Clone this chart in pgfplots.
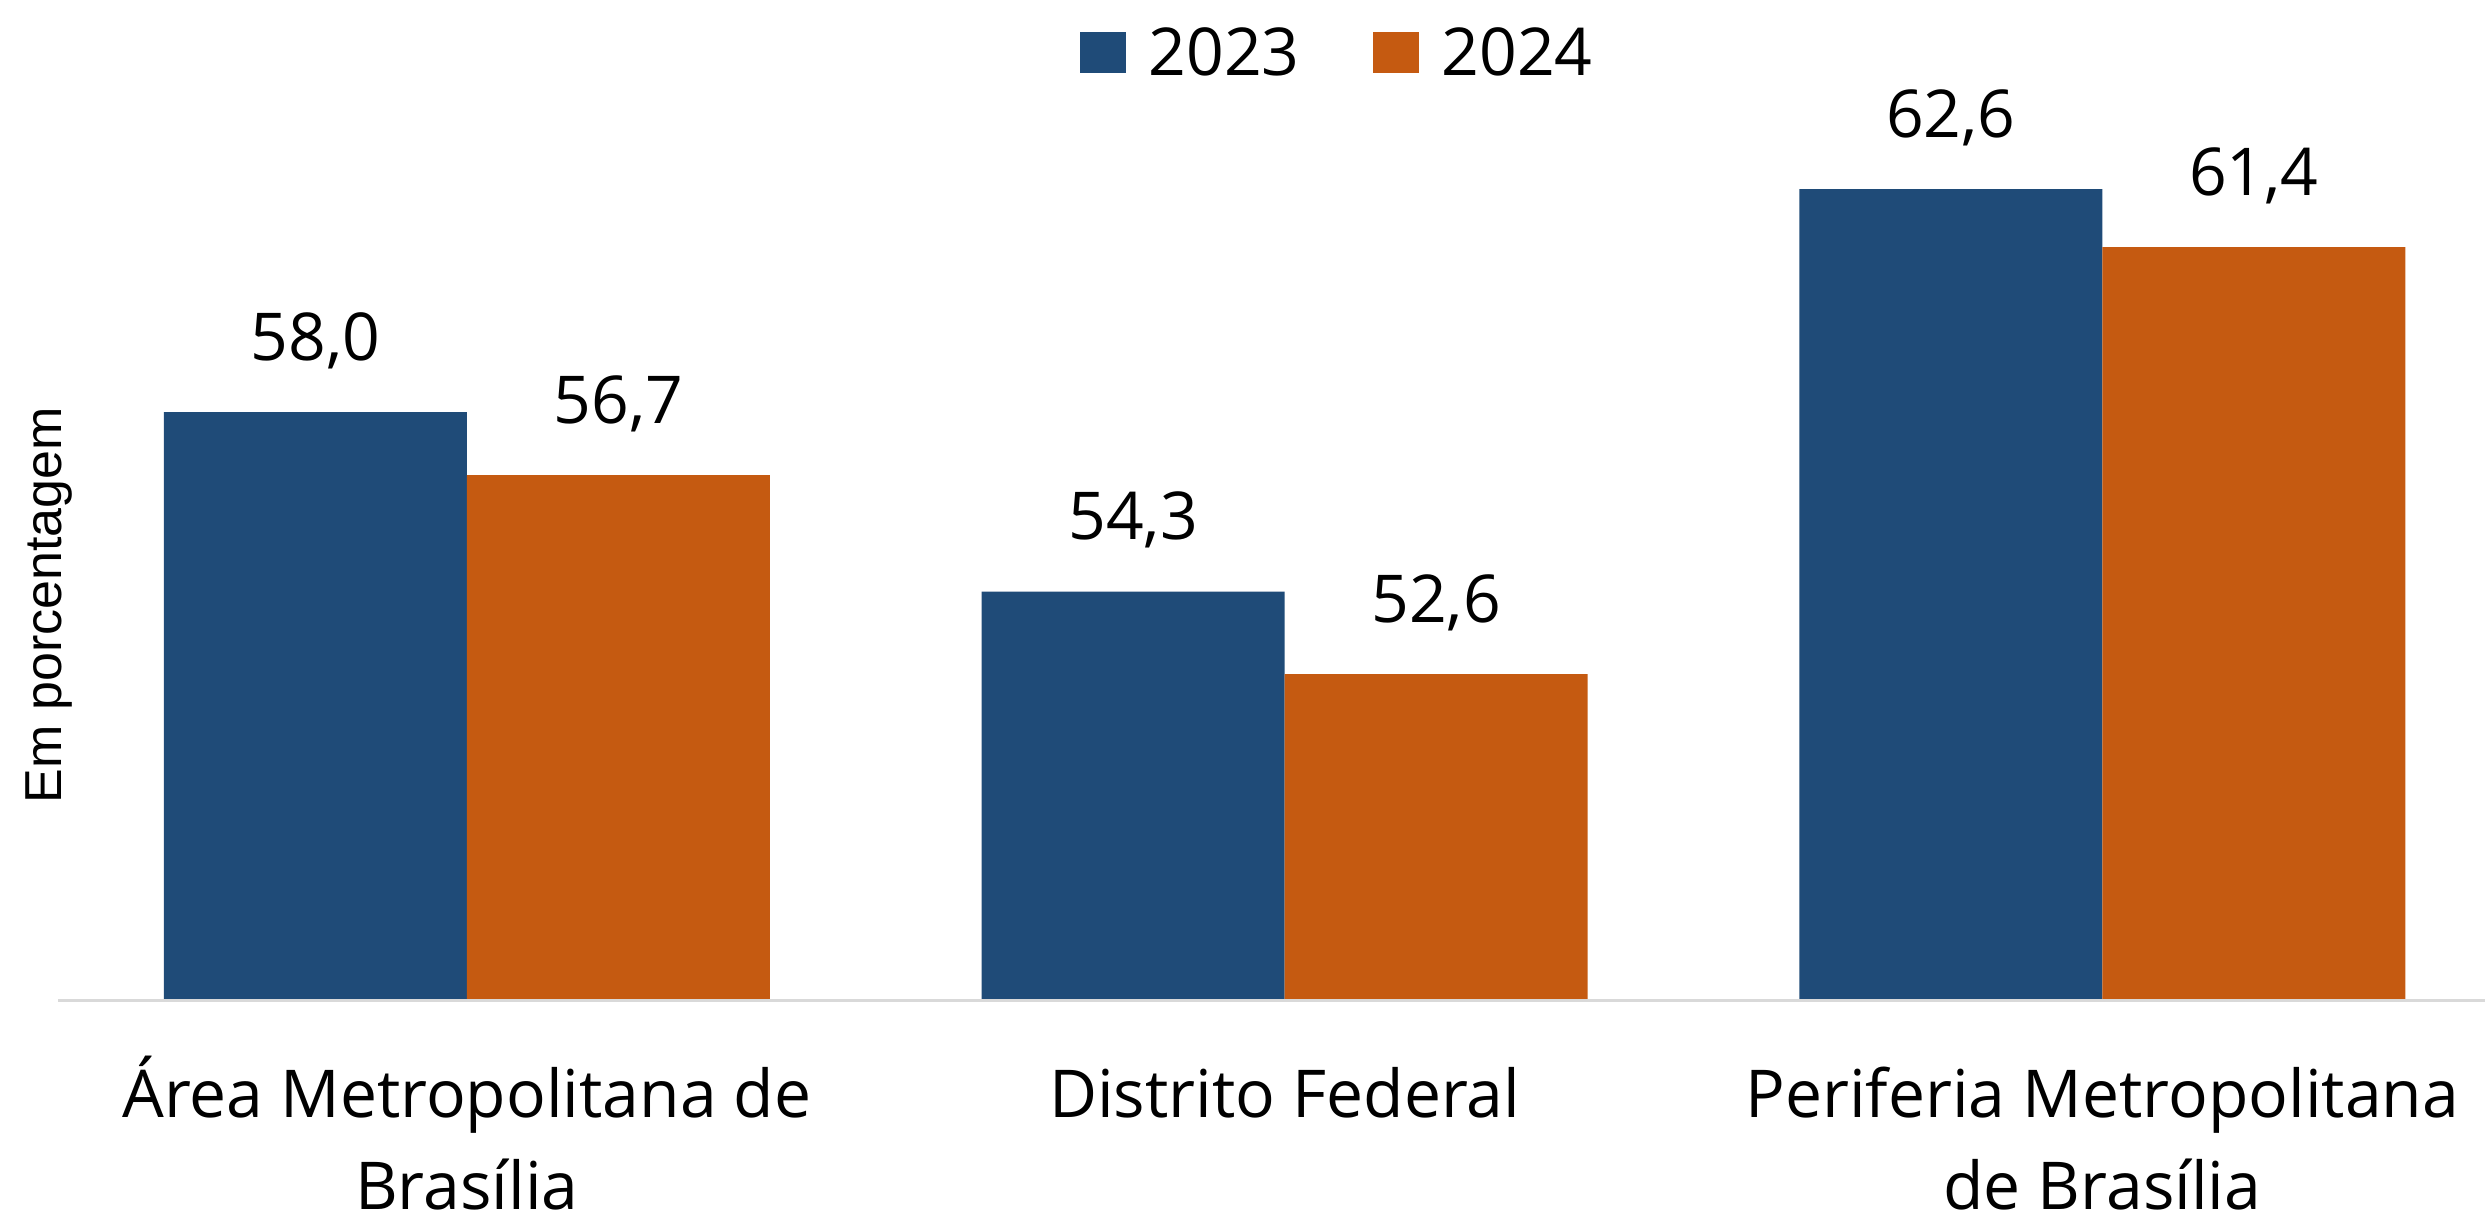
\documentclass[border=0pt]{standalone}
\usepackage{fontspec}
\setmainfont{Open Sans}
\newfontfamily\arialfont{Liberation Sans}
\usepackage{pgfplots}
\pgfplotsset{compat=1.18}
\definecolor{cblue}{HTML}{1F4B78}
\definecolor{corange}{HTML}{C55A11}
\definecolor{cline}{HTML}{D9D9D9}
\newcommand\hs{\rule{0pt}{16.6pt}}
\begin{document}
\begin{tikzpicture}
\begin{axis}[
  name=ax, at={(0,0)}, anchor=south west,
  scale only axis, width=606.75pt, height=224.75pt,
  xmin=-0.5, xmax=2.468, ymin=45.9, ymax=64.436,
  axis line style={draw=none},
  major tick length=0pt,
  ybar=0pt, bar width=75.75pt,
  xtick={0,1,2},
  xticklabels={{\hs Área Metropolitana de\\\hs Brasília},{\hs Distrito Federal},{\hs Periferia Metropolitana\\\hs de Brasília}},
  ytick=\empty,
  xticklabel style={align=center, font=\fontsize{16.5}{23}\selectfont, inner sep=0pt, anchor=north, yshift=-12.9pt, text=black},
  nodes near coords, point meta=explicit symbolic,
  every node near coord/.append style={font=\fontsize{16.5}{20}\selectfont, inner sep=0pt, text depth=0pt, yshift=12.75pt, text=black},
  legend columns=2,
  legend style={at={(0.5266,1.0267)}, anchor=south, draw=none, fill=none, inner sep=0pt, outer sep=0pt,
    font=\fontsize{16.5}{20}\selectfont, nodes={inner sep=0pt, text depth=0pt},
    /tikz/every odd column/.append style={column sep=5.75pt},
    /tikz/every even column/.append style={column sep=18.25pt}},
  legend cell align=left,
  ylabel={Em porcentagem},
  ylabel style={font=\arialfont\fontsize{13}{15}\selectfont, at={(axis description cs:0.00165,0.438)}, anchor=base, inner sep=0pt},
]
\addplot[fill=cblue, draw=none, legend image code/.code={\fill[cblue] (0pt,-5.2pt) rectangle (11.5pt,5.05pt);}]
  coordinates {(0,58.0) [58,0] (1,54.3) [54,3] (2,62.6) [62,6]};
\addplot[fill=corange, draw=none, legend image code/.code={\fill[corange] (0pt,-5.2pt) rectangle (11.5pt,5.05pt);}]
  coordinates {(0,56.7) [56,7] (1,52.6) [52,6] (2,61.4) [61,4]};
\legend{2023,2024}
\end{axis}
\draw[cline, line width=0.75pt] ([yshift=-0.375pt]ax.south west) -- ([yshift=-0.375pt]ax.south east);
\pgfresetboundingbox
\useasboundingbox ([shift={(-14.5pt,-55.5pt)}]ax.south west) rectangle ([shift={(0pt,25pt)}]ax.north east);
\end{tikzpicture}
\end{document}
